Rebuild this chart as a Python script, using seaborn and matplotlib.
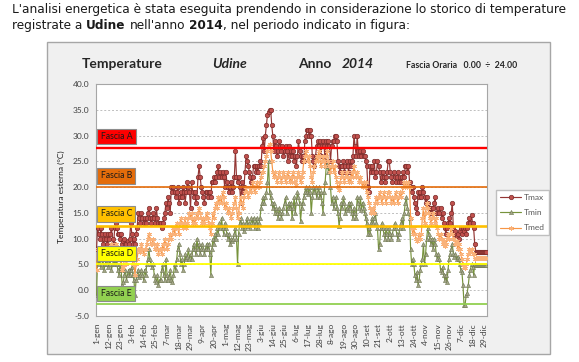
import matplotlib
matplotlib.use("Agg")
import matplotlib.pyplot as plt
import matplotlib.transforms as mtransforms
from matplotlib.patches import Rectangle
import numpy as np
import pandas as pd
import seaborn as sns

# ---------------- data ----------------
tmax_gen = [8, 12, 11, 10, 12, 11, 9, 10, 11, 10, 9, 11, 10, 11, 12, 10, 9, 12, 13, 12, 11, 11, 10, 11, 9, 9.5, 10, 9, 9, 9.5, 9]
tmax_feb = [10, 13, 11, 9, 10, 9, 11, 12, 15, 14, 13, 15, 14, 13, 14, 13, 14, 15, 16, 14, 13, 14, 15, 14, 13, 16, 14, 13, 13]
tmax_mar = [13, 12, 13, 14, 15, 17, 16, 18, 17, 15, 20, 19, 20, 19, 18, 19, 20, 17, 18, 19, 18, 20, 19, 17, 19, 21, 20, 19, 16, 21, 19]
tmax_apr = [18, 19, 17, 18, 22, 24, 22, 20, 19, 18, 17, 19, 19, 18, 19, 19, 18, 21, 21, 22, 21, 22, 23, 24, 22, 23, 22, 23, 22, 20]
tmax_mag = [23, 21, 20, 19, 20, 21, 19, 20, 22, 27, 22, 21, 22, 20, 17, 21, 19, 20, 23, 26, 25, 24, 23, 22, 21, 22, 24, 24, 23, 24, 23]
tmax_giu = [24, 25, 24, 28, 29.5, 27, 30, 32, 34, 34.5, 35, 35, 32, 30, 27, 29, 28, 26, 27, 29, 28, 27, 28, 26, 27, 28, 27, 25, 28, 26]
tmax_lug = [27, 26, 27, 25, 26, 24, 26, 29, 27, 26, 25, 26, 25, 29, 30, 31, 31, 30, 31, 30, 26, 25, 24, 26, 28, 29, 28, 29, 26, 28, 29]
tmax_ago = [28, 25, 29, 28, 29, 28, 25, 28, 29, 29, 30, 30, 29, 25, 24, 23, 24, 24, 25, 23, 24, 25, 24, 23, 25, 24, 25, 26, 30, 28, 26]
tmax_set = [30, 27, 26, 27, 26, 27, 26, 26, 25, 24, 20, 19, 24, 23, 24, 23, 25, 22, 23, 25, 24, 23, 21, 22, 23, 22, 21, 22, 23, 25]
tmax_ott = [25, 23, 22, 21, 23, 22, 21, 22, 23, 21, 22, 21, 22, 23, 22, 24, 24, 23, 24, 21, 20, 19, 20, 18, 17, 16, 15, 19, 18, 19, 18]
tmax_nov = [20, 19, 18, 17, 18, 17, 16, 16, 15, 16, 16, 17, 18, 15, 15, 16, 15, 16, 14, 15, 13, 12, 11, 12, 13, 14, 13, 15, 17, 12]
tmax_dic = [11, 11.5, 10.5, 11, 10, 11.5, 12, 11, 12, 11.5, 12, 11, 12, 13, 14, 13, 14.5, 13, 12, 9,
            7.5, 7.5, 7.5, 7.5, 7.5, 7.5, 7.5, 7.5, 7.5, 7.5, 7.5]

tmin_gen = [-1, 6, 5, 6, 4.5, 5, 6, 4, 5, 6, 5, 4.5, 6, 5, 4, 5, 6, 5, 6, 5, 4, 3, 5, 4, 1, 1.5, 3, 4, 2, 3, 4]
tmin_feb = [3, 4, 4.5, 3, 2, -1, 2, 3, 4, 2.5, 3, 4, 3, 2, 4, 3, 5, 6, 8, 6, 5, 4.6, 5, 3, 2, 1.5, 3, 1, 2]
tmin_mar = [2, 4, 5, 3, 2, 6, 3, 2, 2.5, 4, 2, 1.5, 3, 5, 4, 6, 8, 9, 7, 5, 6, 4, 5, 7, 6, 6.5, 8, 6, 7, 6, 8]
tmin_apr = [9, 8, 7, 10, 8, 9, 7, 8, 9, 8, 7, 8, 9, 8, 9, 7, 3, 8, 10, 9, 11, 10, 12, 11, 13, 12, 14, 12, 11, 13]
tmin_mag = [12, 11, 10, 11, 9, 10, 9.6, 10, 11, 12, 10, 5, 11, 13, 14, 12, 13, 11.5, 12, 13, 14, 12.5, 13, 12, 14, 13, 14, 12, 13, 14, 12]
tmin_giu = [13, 14, 16, 17, 18, 17, 18, 19, 21, 25, 19, 18, 17, 16, 17, 15, 16, 15, 14, 16, 15, 14, 15, 16, 17, 18, 15, 16, 17, 16]
tmin_lug = [17, 14, 16, 18, 15, 17, 19, 18, 17, 13.5, 16, 17, 18, 19, 20, 19, 18.6, 20, 19, 15, 18, 20, 19, 20, 18, 19, 20, 18, 19, 17, 15]
tmin_ago = [19, 21, 24, 24.5, 23, 24, 20, 17, 18, 16, 17, 18, 16, 15, 12.5, 14, 17, 16, 18, 17, 15, 16, 15.5, 17, 16, 17, 15, 14, 16, 15, 14]
tmin_set = [18, 17, 16, 18, 15.5, 17, 16, 15, 14, 13, 11, 12, 11, 13, 14, 13, 14, 15, 13, 12, 8, 9, 12, 13, 12, 11, 10, 12, 11, 10]
tmin_ott = [12, 11, 10, 11, 12, 13, 12, 11, 10, 11, 12, 13, 14, 12, 15, 17, 18, 16, 15, 14, 8, 5, 6, 5, 3, 2, 3.5, 1, 2, 4, 5]
tmin_nov = [6, 9, 5, 7, 10, 12, 11, 10, 9, 10, 8, 10, 9, 7, 6, 7, 6, 4, 3.5, 4.5, 3, 2, 3, 1.5, 4, 6, 7, 8, 9, 7]
tmin_dic = [6.5, 7, 6, 6.5, 6, 5, 4, 3.5, 1, -2.8, -2.8, -1, -0.5, 1, 3, 4, 5, 4.5, 3, 5,
            4.8, 4.8, 4.8, 4.8, 4.8, 4.8, 4.8, 4.8, 4.8, 4.8, 4.8]

tmed_gen = [4, 8, 7, 8, 7, 8, 7, 6.5, 8, 7, 7, 8, 7, 8, 9, 7, 7, 8, 9, 8, 7, 6, 7, 6, 4, 4.5, 6, 6, 5, 6, 6]
tmed_feb = [6, 8, 7, 5, 5, 3, 5, 6, 8, 8, 7.5, 9, 8, 7, 8, 8, 9, 10, 11, 10, 9, 9, 10, 9, 8, 8, 9, 7, 8]
tmed_mar = [8, 7, 9, 8, 10, 9, 8, 9, 10, 11, 10, 11, 12, 11, 12, 13, 12, 11, 13, 14, 13, 12, 13, 14, 12, 13, 14, 15, 14, 15, 13]
tmed_apr = [14, 13, 14, 15, 14, 16, 15, 14, 13, 14, 13, 14, 15, 14, 13, 12, 11, 13, 15, 14, 16, 17, 16, 18, 17, 18, 17, 19, 18, 16]
tmed_mag = [17, 16, 15, 16, 15, 14, 15, 16, 17, 18, 16, 14, 15, 17, 18, 17, 16, 18, 19, 20, 19, 18, 19, 20, 19, 21, 20, 19, 20, 21, 20]
tmed_giu = [20, 21, 22, 23, 23, 24, 25, 26, 27, 28, 28.4, 27, 25, 23, 22, 23, 22, 21, 22, 23, 22, 21, 22, 23, 22, 21, 22, 23, 22, 21]
tmed_lug = [22, 21, 23, 22, 21, 20.5, 22, 23, 22, 21, 22, 23, 25, 26, 27, 26, 25, 26, 24, 22, 21, 23, 24, 25, 26, 25, 27, 26, 24, 25, 26]
tmed_ago = [25, 24, 26, 27, 25, 24, 23, 24, 25, 23, 24, 22, 21, 20, 19.5, 21, 22, 23, 22, 21, 22, 23, 22, 21, 22, 21, 23, 22, 24, 23, 22]
tmed_set = [23, 22, 21, 22, 21, 20, 21, 20, 21, 19, 18, 17, 16, 15, 15.5, 16, 15, 17, 18, 17, 18, 19, 18, 17, 18, 19, 18, 17, 18, 19]
tmed_ott = [19, 18, 17, 18, 17, 18, 19, 18, 17, 18, 19, 18, 19, 20, 21, 20, 21, 20, 21, 20, 14, 12, 11, 12, 11, 10, 9.5, 10, 11, 10, 11]
tmed_nov = [14, 16, 13, 15, 17, 16, 15, 14, 13, 14, 15, 14, 13, 14, 12, 11, 10, 11, 10, 9, 9.5, 8.5, 9, 10, 11, 10, 11, 12, 11, 10]
tmed_dic = [10, 9, 9.5, 8, 9, 8, 7, 6, 5, 4.5, 4.4, 5, 6, 7, 8, 7.5, 8, 7, 7, 6,
            6.3, 6.3, 6.3, 6.3, 6.3, 6.3, 6.3, 6.3, 6.3, 6.3, 6.3]

tick_labels = ["1-gen", "12-gen", "23-gen", "3-feb", "14-feb", "25-feb", "7-mar", "18-mar",
               "29-mar", "9-apr", "20-apr", "1-mag", "12-mag", "23-mag", "3-giu", "14-giu",
               "25-giu", "6-lug", "17-lug", "28-lug", "8-ago", "19-ago", "30-ago", "10-set",
               "21-set", "2-ott", "13-ott", "24-ott", "4-nov", "15-nov", "26-nov", "7-dic",
               "18-dic", "29-dic"]
series_names = ["Tmax", "Tmin", "Tmed"]
fasce_names = ["Fascia A", "Fascia B", "Fascia C", "Fascia D", "Fascia E"]
fasce_values = [27.5, 20.0, 12.5, 5.0, -2.7]
fasce_label_y = [29.8, 22.2, 14.8, 7.15, -0.6]
y_ticks = [-5, 0, 5, 10, 15, 20, 25, 30, 35, 40]

# ---------------- build table ----------------
tmax = tmax_gen + tmax_feb + tmax_mar + tmax_apr + tmax_mag + tmax_giu + tmax_lug + tmax_ago + tmax_set + tmax_ott + tmax_nov + tmax_dic
tmin = tmin_gen + tmin_feb + tmin_mar + tmin_apr + tmin_mag + tmin_giu + tmin_lug + tmin_ago + tmin_set + tmin_ott + tmin_nov + tmin_dic
tmed = tmed_gen + tmed_feb + tmed_mar + tmed_apr + tmed_mag + tmed_giu + tmed_lug + tmed_ago + tmed_set + tmed_ott + tmed_nov + tmed_dic
n = len(tmax)
df = pd.DataFrame({"giorno": np.arange(n), "Tmax": tmax, "Tmin": tmin, "Tmed": tmed})

# ---------------- figure ----------------
sns.set_style("white")
plt.rcParams['font.family'] = ['Lato', 'DejaVu Sans']

W, H = 579, 362
fig = plt.figure(figsize=(W / 100, H / 100), dpi=100)
fig.patch.set_facecolor("white")

def fx(px):
    return px / W

def fy(py):
    return 1 - py / H

# chart box
fig.add_artist(Rectangle((fx(47), fy(354)), (550 - 47) / W, (354 - 42) / H,
                         transform=fig.transFigure, facecolor="#F0F0F0",
                         edgecolor="#A6A6A6", lw=1.0, zorder=0))

ax = fig.add_axes([fx(96), fy(316), 391 / W, 232 / H])
ax.set_facecolor("white")

styles = {
    "Tmax": dict(color="#943634", marker="o", markersize=3.2, markerfacecolor="#C0504D",
                 markeredgecolor="#7B2C2A", markeredgewidth=0.5, lw=0.85),
    "Tmin": dict(color="#77933C", marker="^", markersize=3.0, markerfacecolor="#A4A688",
                 markeredgecolor="#6E7752", markeredgewidth=0.4, lw=0.85),
    "Tmed": dict(color="#F79646", marker=(6, 2, 0), markersize=3.3, markeredgecolor="#F9B27A",
                 markeredgewidth=0.7, lw=0.85),
}
for name in series_names:
    sns.lineplot(data=df, x="giorno", y=name, ax=ax, label=name, zorder=3, **styles[name])

handles, labels = ax.get_legend_handles_labels()
if ax.get_legend() is not None:
    ax.get_legend().remove()

fasce_line = {
    "Fascia A": ("#FF0000", 1.7),
    "Fascia B": ("#E46C0A", 1.2),
    "Fascia C": ("#FFC000", 1.9),
    "Fascia D": ("#FFFF00", 1.3),
    "Fascia E": ("#92D050", 1.3),
}
blend = mtransforms.blended_transform_factory(ax.transAxes, ax.transData)
for name, val, ly in zip(fasce_names, fasce_values, fasce_label_y):
    c, lw = fasce_line[name]
    ax.axhline(val, color=c, lw=lw, zorder=5)
    ax.text(0.012, ly, name, transform=blend, ha="left", va="center", fontsize=6.2,
            color="#1a1a1a", zorder=7,
            bbox=dict(boxstyle="square,pad=0.38", fc=c, ec="#8C8C8C", lw=0.8))

ax.set_xlim(-0.5, n - 0.5)
ax.set_ylim(-5, 40)
ax.set_yticks(y_ticks)
ax.set_yticklabels([f"{v:.1f}" for v in y_ticks])
ax.set_xticks(np.arange(0, n, 11)[:len(tick_labels)])
ax.set_xticklabels(tick_labels, rotation=90)
ax.set_xlabel("")
ax.set_ylabel("")
ax.yaxis.grid(True, linestyle=(0, (2, 2)), color="#BFBFBF", lw=0.7, zorder=0)
ax.xaxis.grid(False)
ax.set_axisbelow(True)
for s in ax.spines.values():
    s.set_color("#A6A6A6")
    s.set_linewidth(0.8)
ax.tick_params(axis="both", which="major", labelsize=6, colors="#404040",
               length=3, width=0.6, direction="out", pad=2)
ax.tick_params(axis="both", color="#A6A6A6")

fig.text(fx(61), fy(197), "Temperatura esterna (°C)", rotation=90, ha="center",
         va="center", fontsize=6, color="#1a1a1a")

# legend
fig.legend(handles, labels, loc="upper left", bbox_to_anchor=(fx(496), fy(190)),
           fontsize=6, frameon=True, fancybox=False, edgecolor="#BFBFBF",
           facecolor="white", framealpha=1, handlelength=2.6, handletextpad=0.3,
           borderpad=0.45, labelspacing=1.0, borderaxespad=0, labelcolor="#595959")

# chart titles
fig.text(fx(82), fy(68), "Temperature", fontsize=10, fontweight="bold", ha="left", va="baseline")
fig.text(fx(212), fy(68), "Udine", fontsize=10, fontweight="bold", style="italic", ha="left", va="baseline")
fig.text(fx(298), fy(68), "Anno", fontsize=10, fontweight="bold", ha="left", va="baseline")
fig.text(fx(342), fy(68), "2014", fontsize=10, fontweight="bold", style="italic", ha="left", va="baseline")
fig.text(fx(406), fy(67.5), "Fascia Oraria   0.00  \u00f7  24.00", fontsize=6.3,
         fontweight="bold", ha="left", va="baseline")

# paragraph text above the chart
renderer = fig.canvas.get_renderer()
pfam = ["DejaVu Sans"]
probe = fig.text(0, 0, "L'analisi energetica è stata eseguita prendendo in considerazione lo storico di temperature",
                 fontsize=10, family=pfam)
w10 = probe.get_window_extent(renderer=renderer).width
probe.remove()
psize = 10 * 553 / w10

def space_w(size):
    a = fig.text(0, 0, "a a", fontsize=size, family=pfam)
    b = fig.text(0, 0, "aa", fontsize=size, family=pfam)
    w = a.get_window_extent(renderer=renderer).width - b.get_window_extent(renderer=renderer).width
    a.remove(); b.remove()
    return w

sw = space_w(psize)

def runs(x_px, y_px, parts):
    x = x_px
    for i, (txt, weight) in enumerate(parts):
        t = fig.text(fx(x), fy(y_px), txt, fontsize=psize, fontweight=weight, family=pfam,
                     ha="left", va="baseline", color="#1a1a1a")
        x += t.get_window_extent(renderer=renderer).width
        if i < len(parts) - 1 and not parts[i + 1][0].startswith(","):
            x += sw

runs(12, 13.5, [("L'analisi energetica è stata eseguita prendendo in considerazione lo storico di temperature", "normal")])
runs(12, 29, [("registrate a", "normal"), ("Udine", "bold"), ("nell'anno", "normal"),
              ("2014", "bold"), (", nel periodo indicato in figura:", "normal")])

fig.savefig("out.png", dpi=100)
